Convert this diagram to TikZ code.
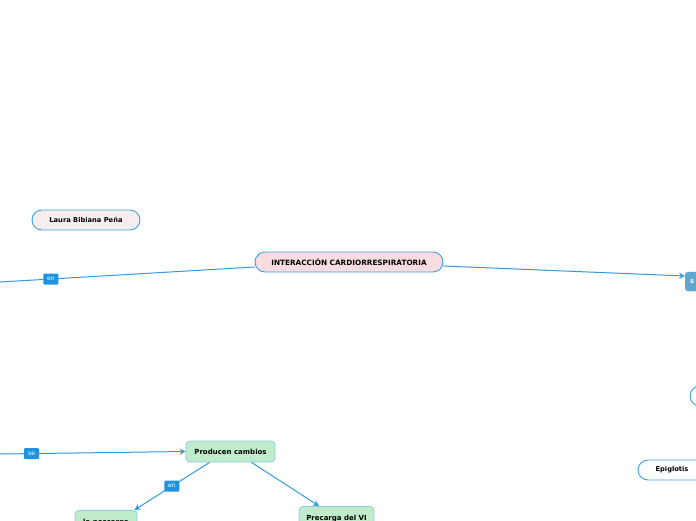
\documentclass[tikz,border=0pt]{standalone}
\usepackage{fontspec}
\setmainfont{DejaVu Sans}
\usetikzlibrary{arrows.meta}
\definecolor{lineblue}{HTML}{2F9BE1}
\definecolor{borderblue}{HTML}{3A9FE2}
\definecolor{labelblue}{HTML}{1E93DF}
\definecolor{pinkfill}{HTML}{F8DCE0}
\definecolor{palefill}{HTML}{F6EEEE}
\definecolor{greenfill}{HTML}{C0ECCB}
\definecolor{greenborder}{HTML}{86CDE6}
\definecolor{steelfill}{HTML}{5EA6CC}
\tikzset{
  pill/.style={draw=borderblue, line width=0.9pt, rounded corners=10pt, minimum height=20pt, inner sep=0pt, font=\fontsize{6.7}{7}\selectfont\bfseries},
  greenbox/.style={draw=greenborder, fill=greenfill, line width=0.8pt, rounded corners=4pt, minimum height=21pt, inner sep=0pt, font=\fontsize{7}{8}\selectfont\bfseries},
  lab/.style={fill=labelblue, text=white, rounded corners=1pt, minimum width=15pt, minimum height=11pt, inner sep=0pt, font=\fontsize{6}{6}\selectfont},
  conn/.style={draw=lineblue, line width=1pt},
  arr/.style={conn, -{Stealth[length=6pt,width=6pt]}}
}
\begin{document}
\begin{tikzpicture}[x=1pt,y=-1pt]
\useasboundingbox (0,0) rectangle (696,520);
\fill[white] (0,0) rectangle (696,520);

\node[pill, fill=palefill, minimum width=108pt] (laura) at (86,220) {Laura Bibiana Peña};
\node[pill, fill=pinkfill, minimum width=188pt, font=\fontsize{7.3}{8}\selectfont\bfseries] (main) at (349,262) {INTERACCIÓN CARDIORRESPIRATORIA};

\node[draw=steelfill, fill=steelfill, rounded corners=3pt, minimum height=19pt, minimum width=40pt, inner sep=0pt, anchor=west, text=white, font=\fontsize{6.8}{8}\selectfont\bfseries] (sbox) at (685,281.5) {\hspace*{-26pt}s};

\node[pill, fill=white, minimum width=80pt] (circ) at (730,396) {};
\node[pill, fill=white, minimum width=68pt] (epi) at (672,470) {Epiglotis};

\node[greenbox, minimum width=89pt] (prod) at (230.5,451.5) {Producen cambios};
\node[greenbox, minimum width=62pt, minimum height=24pt, anchor=north] (emb) at (106,510) {la poscarga};
\node[greenbox, minimum width=75pt, minimum height=24pt, anchor=north] (prec) at (336.5,506) {Precarga del VI};

\coordinate (L) at (0,282);
\coordinate (S0) at (0,454);

\draw[conn] (L) -- node[lab, pos=0.2] {en} ([yshift=-5pt]main.west);
\draw[arr] ([yshift=-4pt]main.east) -- ([yshift=5.5pt]sbox.west);
\draw[arr] (S0) -- node[lab, pos=0.17] {se} (prod.west);
\draw[arr] ([xshift=-21pt]prod.south) -- node[lab, pos=0.5] {en} ([xshift=-3pt]emb.north east);
\draw[arr] ([xshift=21pt]prod.south) -- ([xshift=-17.5pt]prec.north);
\end{tikzpicture}
\end{document}
